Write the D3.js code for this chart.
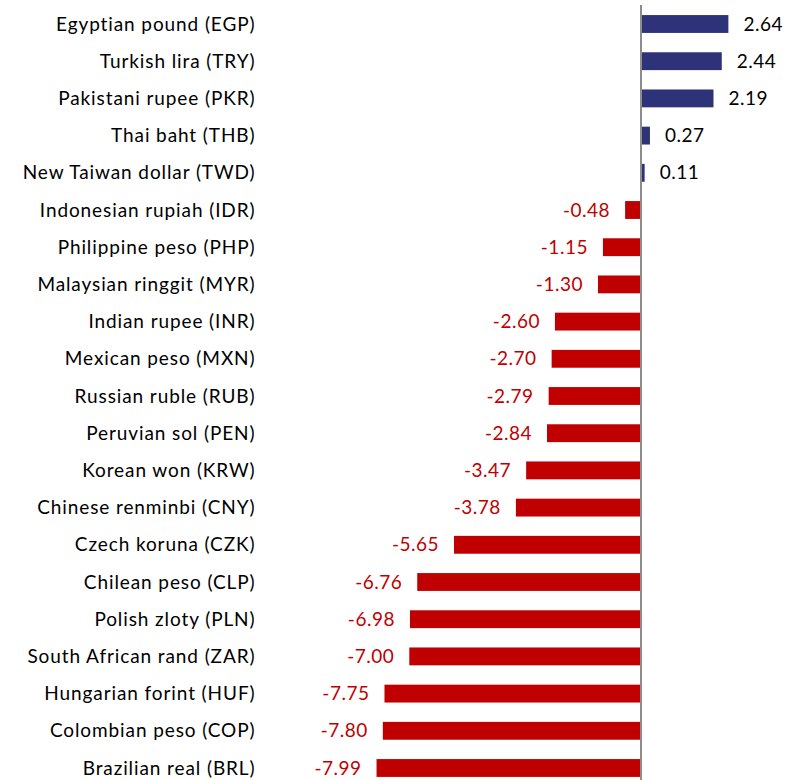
<!DOCTYPE html>
<html><head><meta charset="utf-8">
<script src="https://cdn.jsdelivr.net/npm/d3@7"></script>
<style>body{margin:0;background:#fff}</style>
</head><body>
<svg id="c" width="799" height="780"></svg>
<script>
const categories = ["Egyptian pound (EGP)","Turkish lira (TRY)","Pakistani rupee (PKR)","Thai baht (THB)","New Taiwan dollar (TWD)","Indonesian rupiah (IDR)","Philippine peso (PHP)","Malaysian ringgit (MYR)","Indian rupee (INR)","Mexican peso (MXN)","Russian ruble (RUB)","Peruvian sol (PEN)","Korean won (KRW)","Chinese renminbi (CNY)","Czech koruna (CZK)","Chilean peso (CLP)","Polish zloty (PLN)","South African rand (ZAR)","Hungarian forint (HUF)","Colombian peso (COP)","Brazilian real (BRL)"];
const values = [2.64,2.44,2.19,0.27,0.11,-0.48,-1.15,-1.30,-2.60,-2.70,-2.79,-2.84,-3.47,-3.78,-5.65,-6.76,-6.98,-7.00,-7.75,-7.80,-7.99];

const svg = d3.select("#c");
const font = "Lato, 'Open Sans', sans-serif";
const x = d3.scaleLinear().domain([-10, 4]).range([641 - 331, 641 + 132.4]);
const y = d3.scaleBand().domain(categories).range([5.4, 786.6]).paddingInner(0.52).paddingOuter(0.26);

const data = categories.map((c,i)=>({c, v: values[i]}));

svg.selectAll("rect.bar").data(data).join("rect")
  .attr("x", d => x(Math.min(0, d.v)))
  .attr("width", d => Math.abs(x(d.v) - x(0)))
  .attr("y", d => y(d.c))
  .attr("height", y.bandwidth())
  .attr("fill", d => d.v >= 0 ? "#2E3278" : "#C00000");

svg.append("line")
  .attr("x1", x(0)).attr("x2", x(0))
  .attr("y1", 5).attr("y2", 780)
  .attr("stroke", "#8c8c8c").attr("stroke-width", 2);

svg.selectAll("text.cat").data(data).join("text")
  .attr("x", 255.5)
  .attr("y", d => y(d.c) + y.bandwidth()/2)
  .attr("dy", "0.35em")
  .attr("text-anchor", "end")
  .attr("font-family", font).attr("font-size", 19)
  .attr("letter-spacing", 0.9)
  .attr("fill", "#000")
  .text(d => d.c);

svg.selectAll("text.val").data(data).join("text")
  .attr("x", d => d.v >= 0 ? x(d.v) + 15 : x(d.v) - 15)
  .attr("y", d => y(d.c) + y.bandwidth()/2)
  .attr("dy", "0.35em")
  .attr("text-anchor", d => d.v >= 0 ? "start" : "end")
  .attr("font-family", font).attr("font-size", 19)
  .attr("letter-spacing", 0.5)
  .attr("fill", d => d.v >= 0 ? "#000" : "#C00000")
  .text(d => d.v.toFixed(2));
</script>
</body></html>
